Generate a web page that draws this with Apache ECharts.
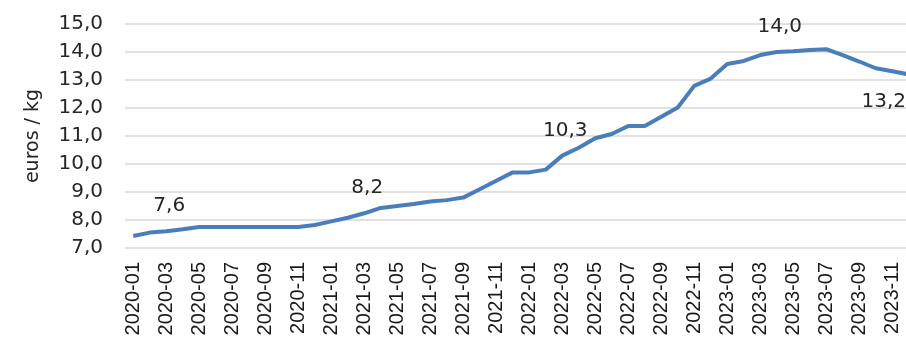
<!DOCTYPE html>
<html>
<head>
<meta charset="utf-8">
<script src="https://cdn.jsdelivr.net/npm/echarts@6/dist/echarts.min.js"></script>
<style>
  html, body { margin: 0; padding: 0; background: #fff; }
  #chart { width: 906px; height: 349px; }
</style>
</head>
<body>
<div id="chart"></div>
<script>
// mois 2020-01 .. 2023-12
var months = [];
for (var y = 2020; y <= 2023; y++) {
  for (var m = 1; m <= 12; m++) {
    months.push(y + "-" + (m < 10 ? "0" + m : m));
  }
}

// prix (euros / kg)
var prices = [
  7.43, 7.55, 7.6, 7.67, 7.75, 7.75, 7.75, 7.75, 7.75, 7.75, 7.75, 7.82,
  7.95, 8.08, 8.24, 8.43, 8.5, 8.57, 8.66, 8.71, 8.8, 9.1, 9.4, 9.7,
  9.7, 9.8, 10.3, 10.58, 10.92, 11.07, 11.36, 11.36, 11.69, 12.02, 12.79, 13.05,
  13.57, 13.68, 13.89, 14.0, 14.03, 14.07, 14.1, 13.89, 13.66, 13.42, 13.31, 13.2
];

// points étiquetés
var labelled = [2, 14, 26, 39];
var labelledBelow = [47];

var yTicks = { min: 7, max: 15, step: 1 };

function fr(v) {
  return v.toFixed(1).replace(".", ",");
}

var seriesData = prices.map(function (v, i) {
  if (labelled.indexOf(i) >= 0) {
    return { value: v, label: { show: true, position: "top", distance: 15, offset: [3, 0] } };
  }
  if (labelledBelow.indexOf(i) >= 0) {
    return { value: v, label: { show: true, position: "bottom", distance: 5, offset: [-25, 12] } };
  }
  return v;
});

var chart = echarts.init(document.getElementById("chart"));
var option = {
  animation: false,
  grid: {
    left: 125,
    top: 24,
    bottom: 101,
    width: 792,
    outerBoundsMode: "none",
    containLabel: false
  },
  xAxis: {
    type: "category",
    boundaryGap: true,
    data: months,
    axisLine: { show: false },
    axisTick: { show: false },
    axisLabel: {
      interval: 1,
      rotate: 90,
      margin: 14,
      color: "#1a1a1a",
      fontFamily: "Liberation Sans",
      fontSize: 20
    }
  },
  yAxis: {
    type: "value",
    min: yTicks.min,
    max: yTicks.max,
    interval: yTicks.step,
    name: "euros / kg",
    nameLocation: "middle",
    nameRotate: 90,
    nameGap: 82,
    nameTextStyle: {
      color: "#262626",
      fontFamily: "DejaVu Sans",
      fontSize: 19
    },
    axisLine: { show: false },
    axisTick: { show: false },
    splitLine: { lineStyle: { color: "#d9d9d9", width: 1.5 } },
    axisLabel: {
      margin: 22,
      color: "#262626",
      fontFamily: "DejaVu Sans",
      fontSize: 20,
      formatter: function (v) { return fr(v); }
    }
  },
  series: [{
    type: "line",
    data: seriesData,
    symbol: "circle",
    symbolSize: 0,
    showSymbol: true,
    showAllSymbol: true,
    lineStyle: { color: "#4a7ebb", width: 4 },
    itemStyle: { color: "#4a7ebb" },
    label: {
      show: false,
      color: "#262626",
      fontFamily: "DejaVu Sans",
      fontSize: 20,
      formatter: function (p) { return fr(p.value); }
    }
  }]
};
chart.setOption(option);
</script>
</body>
</html>
